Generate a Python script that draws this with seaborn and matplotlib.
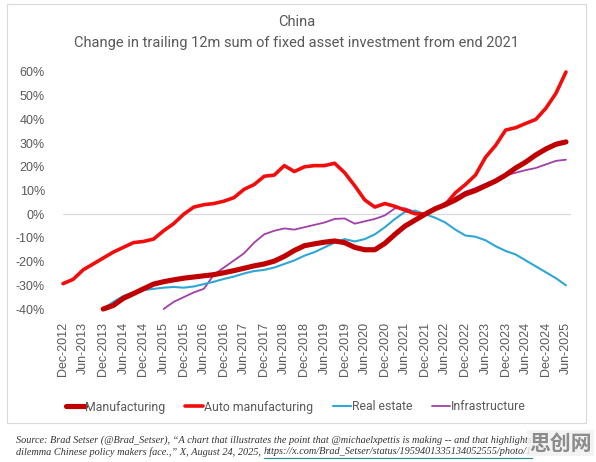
import numpy as np
import pandas as pd
import matplotlib
matplotlib.use("Agg")
import matplotlib.pyplot as plt
import matplotlib.font_manager as fm
from matplotlib.lines import Line2D
from matplotlib.patches import Rectangle
import seaborn as sns

# ---------------- data (months since Dec-2012, values in %) ----------------
auto_months = list(range(0, 151, 3))
auto_vals = [-29.3, -27.5, -23.5, -21, -18.5, -16, -14, -12, -11.5, -10.5,
             -7, -4, 0, 3, 4, 4.5, 5.5, 7, 10.5, 12.5,
             16, 16.5, 20.5, 18, 20, 20.5, 20.5, 21.5, 17.5, 12,
             6, 3, 4.5, 3.3, 1.7, 0.2, 0, 2.4, 4, 9,
             12.5, 16.5, 24, 29, 35.5, 36.5, 38.3, 40, 44.7, 51,
             60]

manuf_months = list(range(12, 151, 3))
manuf_vals = [-40, -38.5, -35.5, -33.5, -31.5, -29.5, -28.5, -27.7, -27, -26.5,
              -26, -25.5, -24.7, -23.8, -22.8, -21.8, -21, -19.8, -17.8, -15.3,
              -13.3, -12.5, -11.8, -11.3, -12, -14, -15, -15, -12.3, -8.5,
              -5, -2.5, 0, 2.3, 4, 6, 8.5, 10, 12, 14,
              16.5, 19.5, 22, 25, 27.5, 29.5, 30.5]

real_months = list(range(12, 151, 3))
real_vals = [-40, -37, -34.5, -33, -32, -31.5, -31, -30.7, -31, -30.5,
             -29.5, -28.5, -27.3, -26.3, -25, -24, -23.5, -22.5, -21, -19.5,
             -17.5, -16, -14, -12, -10.5, -11.5, -10.5, -8.5, -5.5, -2,
             1, 1.5, 0, -1.5, -3.5, -6.5, -9, -9.5, -11, -13.5,
             -15.5, -17, -19.5, -22, -24.5, -27, -30]

infra_months = list(range(30, 151, 3))
infra_vals = [-40, -37, -35, -33, -31.5, -25.5, -22.5, -19.5, -16.5, -12,
              -8.5, -7, -6, -6.5, -5.5, -4.5, -3.5, -2, -1.8, -4,
              -3, -2, -0.5, 2.5, 2.5, 1, 0, 2, 5, 7,
              9.5, 11, 12.8, 14.5, 16.3, 17.5, 18.6, 19.5, 21, 22.5,
              23]

tick_months = list(range(0, 151, 6))
tick_labels = ["Dec-2012", "Jun-2013", "Dec-2013", "Jun-2014", "Dec-2014", "Jun-2015",
               "Dec-2015", "Jun-2016", "Dec-2016", "Jun-2017", "Dec-2017", "Jun-2018",
               "Dec-2018", "Jun-2019", "Dec-2019", "Jun-2020", "Dec-2020", "Jun-2021",
               "Dec-2021", "Jun-2022", "Dec-2022", "Jun-2023", "Dec-2023", "Jun-2024",
               "Dec-2024", "Jun-2025"]
y_ticks = [-40, -30, -20, -10, 0, 10, 20, 30, 40, 50, 60]
y_tick_labels = ["-40%", "-30%", "-20%", "-10%", "0%", "10%", "20%", "30%", "40%", "50%", "60%"]

series_names = ["Manufacturing", "Auto manufacturing", "Real estate", "Infrastructure"]
colors = {"Manufacturing": "#C00000", "Auto manufacturing": "#F20D0D",
          "Real estate": "#2EA6D6", "Infrastructure": "#A23FA8"}
widths = {"Manufacturing": 3.7, "Auto manufacturing": 2.6,
          "Real estate": 1.5, "Infrastructure": 1.3}

df = pd.concat([
    pd.DataFrame({"m": manuf_months, "v": manuf_vals, "s": "Manufacturing"}),
    pd.DataFrame({"m": auto_months, "v": auto_vals, "s": "Auto manufacturing"}),
    pd.DataFrame({"m": real_months, "v": real_vals, "s": "Real estate"}),
    pd.DataFrame({"m": infra_months, "v": infra_vals, "s": "Infrastructure"}),
])

# ---------------- fonts ----------------
sns.set_theme(style="white")
names = {f.name for f in fm.fontManager.ttflist}
narrow = "Liberation Sans Narrow" if "Liberation Sans Narrow" in names else "Roboto"
plt.rcParams["font.family"] = ["Liberation Sans", "DejaVu Sans"]
GREY = "#595959"

W, H = 596, 462
fig = plt.figure(figsize=(W / 100, H / 100), dpi=100)
fig.patch.set_facecolor("white")

def fx(x):
    return x / W

def fy(y):
    return 1 - y / H

# chart frame
fig.patches.append(Rectangle((fx(7), fy(423)), fx(586) - fx(7), fy(4) - fy(423),
                             transform=fig.transFigure, fill=False,
                             edgecolor="#D9D9D9", lw=0.8))

ax = fig.add_axes([fx(63), fy(309), fx(571) - fx(63), fy(72) - fy(309)])
ax.set_facecolor("none")

# zero axis line
ax.axhline(0, color="#D9D9D9", lw=0.9, zorder=1)

for name in series_names:
    sub = df[df["s"] == name]
    sns.lineplot(data=sub, x="m", y="v", ax=ax, color=colors[name],
                 lw=widths[name], legend=False, clip_on=False,
                 zorder=2 + (4 - series_names.index(name)) * 0.1,
                 solid_capstyle="round", solid_joinstyle="round")

ax.set_xlim(0, 151.5)
ax.set_ylim(-40, 60)
ax.set_xlabel("")
ax.set_ylabel("")
for sp in ax.spines.values():
    sp.set_visible(False)
ax.grid(False)

ax.set_xticks(tick_months)
ax.set_xticklabels(tick_labels, rotation=90, fontsize=9, color=GREY,
                   family=["Liberation Sans", "DejaVu Sans"])
ax.set_yticks(y_ticks)
ax.set_yticklabels(y_tick_labels, fontsize=9, color=GREY,
                   family=["Liberation Sans", "DejaVu Sans"])
ax.tick_params(axis="x", length=0, pad=9)
ax.tick_params(axis="y", length=0, pad=13)

# titles
fig.text(fx(297), fy(22), "China", ha="center", va="center", fontsize=10.5,
         color=GREY, family=[narrow, "DejaVu Sans"])
fig.text(fx(297), fy(43), "Change in trailing 12m sum of fixed asset investment from end 2021",
         ha="center", va="center", fontsize=10.5, color=GREY,
         family=[narrow, "DejaVu Sans"])

# legend
handles = [Line2D([0], [0], color=colors[n], lw=widths[n]) for n in series_names]
fig.legend(handles, series_names, loc="center", bbox_to_anchor=(fx(296), fy(407)),
           ncol=4, frameon=False, handlelength=1.5, handletextpad=0.05,
           columnspacing=1.6, prop={"family": narrow, "size": 8.8},
           labelcolor=GREY)

# source note
src1 = ("Source: Brad Setser (@Brad_Setser), \u201cA chart that illustrates the point that "
        "@michaelxpettis is making -- and that highlights th")
src2a = "dilemma Chinese policy makers face.,\u201d X, August 24, 2025, "
src2b = "https://x.com/Brad_Setser/status/1959401335134052555/photo/1"
serif = ["Liberation Serif", "DejaVu Serif"]
fig.text(fx(16), fy(440), src1, ha="left", va="center", fontsize=7.4,
         style="italic", family=serif, color="#333333")
t2 = fig.text(fx(16), fy(452), src2a, ha="left", va="center", fontsize=7.4,
              style="italic", family=serif, color="#333333")
fig.canvas.draw()
r = fig.canvas.get_renderer()
bb = t2.get_window_extent(r)
x_url = bb.x1 / W
t3 = fig.text(x_url, fy(452), src2b, ha="left", va="center", fontsize=7.4,
              style="italic", family=serif, color="#333333")
fig.canvas.draw()
bb3 = t3.get_window_extent(r)
fig.lines.append(Line2D([bb3.x0 / W, bb3.x1 / W], [fy(458), fy(458)],
                        transform=fig.transFigure, color="#1F8A8A", lw=0.8))

# watermark
fig.text(fx(592), fy(443), "思创网", ha="right", va="center", fontsize=15,
         fontweight="bold", color="#8C8C8C",
         family=["Noto Sans CJK SC", "DejaVu Sans"],
         bbox=dict(facecolor="#F2F2F2", edgecolor="none", alpha=0.85, pad=1.5))

fig.savefig("out.png", dpi=100, facecolor="white")
